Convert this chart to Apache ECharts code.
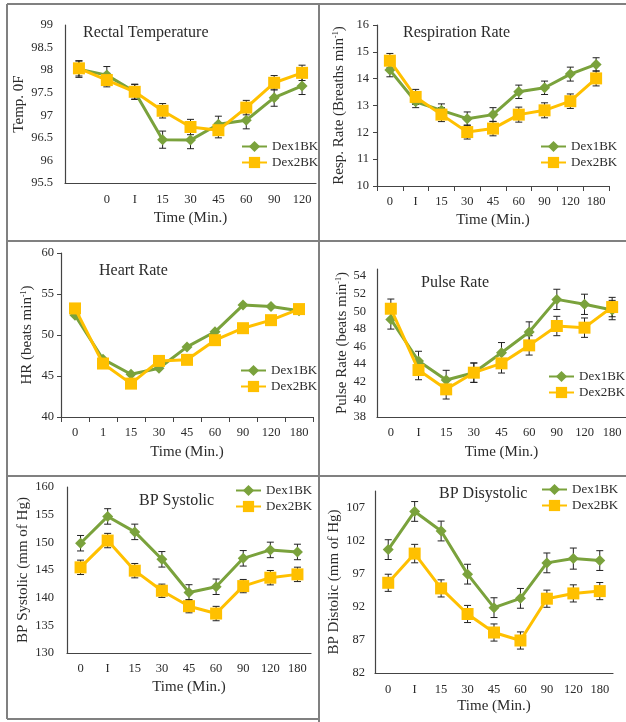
<!DOCTYPE html>
<html>
<head>
<meta charset="utf-8">
<script src="https://cdn.jsdelivr.net/npm/echarts@6/dist/echarts.min.js"></script>
<style>
html, body { margin: 0; padding: 0; background: #fff; }
#chart { width: 626px; height: 722px; }
</style>
</head>
<body>
<div id="chart"></div>
<script>
// x categories
var timeT = ['', '0', 'I', '15', '30', '45', '60', '90', '120'];
var timeA = ['0', 'I', '15', '30', '45', '60', '90', '120', '180'];
var timeH = ['0', '1', '15', '30', '45', '60', '90', '120', '180'];

// rectal temperature
var tempDex1 = [98.02, 97.89, 97.52, 96.46, 96.45, 96.80, 96.89, 97.39, 97.65];
var tempDex2 = [98.04, 97.78, 97.52, 97.10, 96.74, 96.67, 97.17, 97.72, 97.94];
var tempErr1 = [0.18, 0.19, 0.17, 0.19, 0.19, 0.18, 0.19, 0.19, 0.19];
var tempErr2 = [0.17, 0.15, 0.16, 0.16, 0.17, 0.17, 0.16, 0.16, 0.17];

// respiration rate
var respDex1 = [14.32, 13.14, 12.82, 12.51, 12.66, 13.51, 13.66, 14.17, 14.53];
var respDex2 = [14.67, 13.32, 12.66, 12.01, 12.14, 12.66, 12.82, 13.16, 14.01];
var respErr1 = [0.25, 0.22, 0.24, 0.25, 0.26, 0.25, 0.25, 0.26, 0.25];
var respErr2 = [0.27, 0.28, 0.26, 0.26, 0.27, 0.28, 0.28, 0.27, 0.28];

// heart rate
var hrDex1 = [52.42, 47.05, 45.21, 45.95, 48.55, 50.39, 53.65, 53.48, 52.95];
var hrDex2 = [53.24, 46.52, 44.07, 46.84, 46.97, 49.37, 50.83, 51.81, 53.16];

// pulse rate
var prDex1 = [49.08, 44.36, 42.20, 43.03, 45.30, 47.65, 51.35, 50.79, 50.14];
var prDex2 = [50.29, 43.33, 41.14, 43.03, 44.09, 46.13, 48.33, 48.14, 50.48];
var prErr1 = [1.1, 1.1, 1.1, 1.1, 1.15, 1.15, 1.15, 1.15, 1.1];
var prErr2 = [1.1, 1.1, 1.1, 1.1, 1.1, 1.1, 1.1, 1.1, 1.1];

// BP systolic
var sysDex1 = [149.84, 154.68, 151.89, 146.93, 140.94, 141.97, 147.11, 148.63, 148.26];
var sysDex2 = [145.48, 150.32, 144.88, 141.25, 138.46, 137.13, 142.09, 143.61, 144.21];
var sysErr1 = [1.4, 1.4, 1.4, 1.4, 1.4, 1.4, 1.4, 1.4, 1.4];
var sysErr2 = [1.3, 1.3, 1.3, 1.2, 1.2, 1.3, 1.2, 1.3, 1.3];

// BP diastolic
var diaDex1 = [100.71, 106.50, 103.53, 96.99, 91.91, 93.32, 98.70, 99.35, 99.05];
var diaDex2 = [95.68, 100.11, 94.83, 90.95, 88.14, 86.93, 93.27, 94.07, 94.42];
var diaErr1 = [1.5, 1.5, 1.5, 1.5, 1.5, 1.5, 1.5, 1.6, 1.5];
var diaErr2 = [1.3, 1.4, 1.3, 1.3, 1.3, 1.3, 1.3, 1.3, 1.3];
var diaTicks = [82, 87, 92, 97, 102, 107];

var green = '#7aa23c';
var orange = '#ffc000';
var serif = '"Liberation Serif", "DejaVu Serif", serif';
var txt = '#2b2b2b';

var myChart = echarts.init(document.getElementById('chart'));

function errBar(params, api) {
    var x = api.value(0);
    var lo = api.coord([x, api.value(1)]);
    var hi = api.coord([x, api.value(2)]);
    var w = 3.5;
    var st = { stroke: '#222', lineWidth: 1 };
    return {
        type: 'group',
        children: [
            { type: 'line', shape: { x1: lo[0], y1: lo[1], x2: hi[0], y2: hi[1] }, style: st },
            { type: 'line', shape: { x1: lo[0] - w, y1: lo[1], x2: lo[0] + w, y2: lo[1] }, style: st },
            { type: 'line', shape: { x1: hi[0] - w, y1: hi[1], x2: hi[0] + w, y2: hi[1] }, style: st }
        ]
    };
}

function errData(vals, errs) {
    var out = [];
    for (var i = 0; i < vals.length; i++) out.push([i, vals[i] - errs[i], vals[i] + errs[i]]);
    return out;
}

// panel layout
var panels = [
    { title: 'Rectal Temperature', tl: 83, tt: 25, cats: timeT, d1: tempDex1, d2: tempDex2, e1: tempErr1, e2: tempErr2,
      grid: { left: 65, top: 25, width: 251, height: 158 }, min: 95.5, max: 99, interval: 0.5,
      yName: 'Temp. 0F', yGap: 38, yMargin: 12, xGap: 28, xMargin: 10, ticks: false, lg: [241, 140] },
    { title: 'Respiration Rate', tl: 403, tt: 25, cats: timeA, d1: respDex1, d2: respDex2, e1: respErr1, e2: respErr2,
      grid: { left: 377, top: 25, width: 232, height: 161 }, min: 10, max: 16, interval: 1,
      yName: 'Resp. Rate (Breaths min{sup|-1})', yGap: 30, yMargin: 8, xGap: 27, xMargin: 9, ticks: true, lg: [540, 140] },
    { title: 'Heart Rate', tl: 99, tt: 263, cats: timeH, d1: hrDex1, d2: hrDex2,
      grid: { left: 61, top: 253, width: 252, height: 164 }, min: 40, max: 60, interval: 5,
      yName: 'HR (beats min{sup|-1})', yGap: 26, yMargin: 7, xGap: 28, xMargin: 9, ticks: true, lg: [240, 364] },
    { title: 'Pulse Rate', tl: 421, tt: 275, cats: timeA, d1: prDex1, d2: prDex2, e1: prErr1, e2: prErr2,
      grid: { left: 377, top: 269, width: 249, height: 148 }, min: 38, max: 54.8, interval: 2, hideMax: true,
      yName: 'Pulse Rate (beats min{sup|-1})', yGap: 26, yMargin: 11, xGap: 28, xMargin: 9, ticks: false, lg: [548, 370] },
    { title: 'BP Systolic', tl: 139, tt: 493, cats: timeA, d1: sysDex1, d2: sysDex2, e1: sysErr1, e2: sysErr2,
      grid: { left: 67, top: 487, width: 244, height: 166 }, min: 130, max: 160, interval: 5,
      yName: 'BP Systolic (mm of Hg)', yGap: 36, yMargin: 13, xGap: 27, xMargin: 9, ticks: false, lg: [235, 484] },
    { title: 'BP Disystolic', tl: 439, tt: 486, cats: timeA, d1: diaDex1, d2: diaDex2, e1: diaErr1, e2: diaErr2,
      grid: { left: 375, top: 491, width: 238, height: 182 }, min: 82, max: 109.6, custom: diaTicks,
      yName: 'BP Distolic (mm of Hg)', yGap: 33, yMargin: 10, xGap: 26, xMargin: 10, ticks: false, lg: [541, 483] }
];

var option = {
    animation: false,
    backgroundColor: '#fff',
    title: [], grid: [], xAxis: [], yAxis: [], legend: [], series: [],
    graphic: []
};

panels.forEach(function (p, i) {
    option.title.push({
        text: p.title, left: p.tl, top: p.tt, padding: 0,
        textStyle: { fontFamily: serif, fontSize: 16, fontWeight: 'normal', color: txt }
    });
    option.grid.push(p.grid);
    option.xAxis.push({
        gridIndex: i, type: 'category', data: p.cats, boundaryGap: true,
        axisLine: { lineStyle: { color: '#444', width: 1.2 } },
        axisTick: { show: p.ticks, length: 5, lineStyle: { color: '#444' } },
        axisLabel: { fontFamily: serif, fontSize: 12.5, color: txt, margin: p.xMargin, interval: 0 },
        name: 'Time (Min.)', nameLocation: 'middle', nameGap: p.xGap,
        nameTextStyle: { fontFamily: serif, fontSize: 15, color: txt }
    });
    var y = {
        gridIndex: i, type: 'value', min: p.min, max: p.max,
        splitLine: { show: false },
        axisLine: { show: true, lineStyle: { color: '#444', width: 1.2 } },
        axisTick: { show: p.ticks, length: 4, lineStyle: { color: '#444' } },
        axisLabel: { fontFamily: serif, fontSize: 12.5, color: txt, margin: p.yMargin },
        name: p.yName, nameLocation: 'middle', nameRotate: 90, nameGap: p.yGap,
        nameTextStyle: {
            fontFamily: serif, fontSize: 15, color: txt,
            rich: { sup: { fontFamily: serif, fontSize: 8, color: txt, verticalAlign: 'top', padding: [0, 0, 7, 0] } }
        }
    };
    if (p.custom) {
        y.axisLabel.customValues = p.custom;
        y.axisTick.customValues = p.custom;
    } else {
        y.interval = p.interval;
    }
    if (p.hideMax) y.axisLabel.showMaxLabel = false;
    option.yAxis.push(y);

    option.legend.push({
        data: ['Dex1BK', 'Dex2BK'], orient: 'vertical', left: p.lg[0], top: p.lg[1],
        itemWidth: 25, itemHeight: 14, itemGap: 3, padding: 0,
        textStyle: { fontFamily: serif, fontSize: 13, color: txt }
    });

    if (p.e1) {
        option.series.push({
            name: 'err1', type: 'custom', xAxisIndex: i, yAxisIndex: i, z: 1,
            renderItem: errBar, data: errData(p.d1, p.e1), encode: { x: 0, y: [1, 2] }
        });
        option.series.push({
            name: 'err2', type: 'custom', xAxisIndex: i, yAxisIndex: i, z: 1,
            renderItem: errBar, data: errData(p.d2, p.e2), encode: { x: 0, y: [1, 2] }
        });
    }
    option.series.push({
        name: 'Dex1BK', type: 'line', xAxisIndex: i, yAxisIndex: i, z: 3,
        data: p.d1, symbol: 'diamond', symbolSize: 11,
        lineStyle: { color: green, width: 3 }, itemStyle: { color: green }
    });
    option.series.push({
        name: 'Dex2BK', type: 'line', xAxisIndex: i, yAxisIndex: i, z: 4,
        data: p.d2, symbol: 'rect', symbolSize: 12,
        lineStyle: { color: orange, width: 3 }, itemStyle: { color: orange }
    });
});

// panel frame lines
var frame = [
    [7, 4, 7, 719], [7, 4, 626, 4], [319, 4, 319, 722],
    [7, 241, 626, 241], [7, 476, 626, 476], [7, 719, 319, 719]
];
frame.forEach(function (f) {
    option.graphic.push({
        type: 'line', silent: true, z: 10,
        shape: { x1: f[0], y1: f[1], x2: f[2], y2: f[3] },
        style: { stroke: '#808080', lineWidth: 2 }
    });
});

myChart.setOption(option);
</script>
</body>
</html>
